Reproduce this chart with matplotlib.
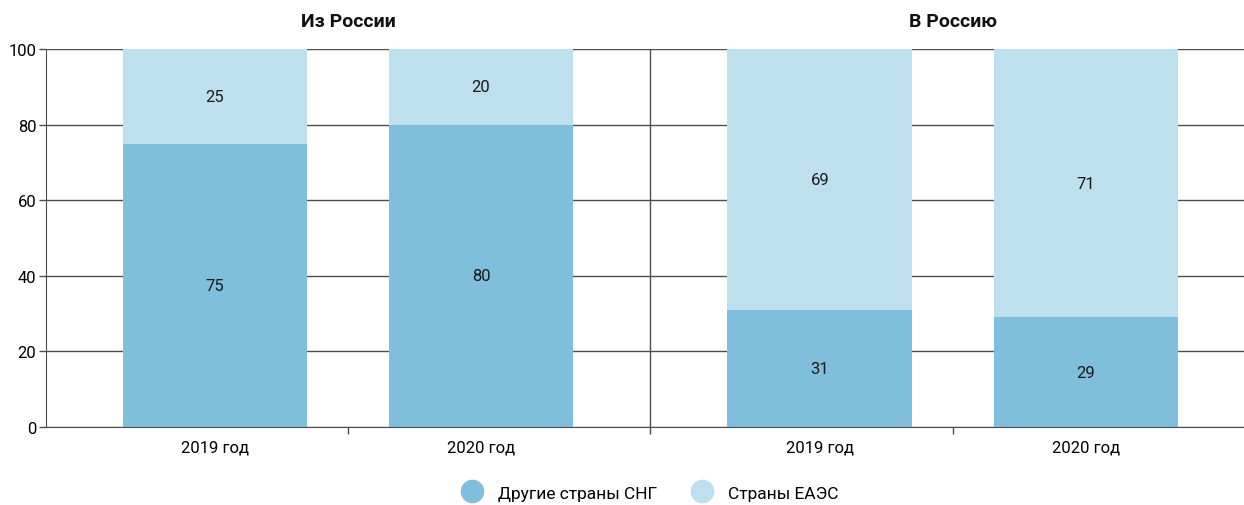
import matplotlib.pyplot as plt
from matplotlib.lines import Line2D

plt.rcParams['font.family'] = ['Roboto', 'DejaVu Sans']

# data
groups = ["Из России", "В Россию"]
years = ["2019 год", "2020 год", "2019 год", "2020 год"]
other_cis = [75, 80, 31, 29]     # Другие страны СНГ
eaeu = [25, 20, 69, 71]          # Страны ЕАЭС
series_names = ["Другие страны СНГ", "Страны ЕАЭС"]

c_dark = "#80bfdc"
c_light = "#bedfee"
grid_c = "#4d4d4d"

x = [0, 1, 2.274, 3.274]
sep = (x[1] + x[2]) / 2

fig = plt.figure(figsize=(12.44, 5.06), dpi=100)
ax = fig.add_axes([0.037, 0.154, 0.963, 0.747])

ax.bar(x, other_cis, width=0.695, color=c_dark, zorder=2)
ax.bar(x, eaeu, width=0.695, bottom=other_cis, color=c_light, zorder=2)

for xi, a, b in zip(x, other_cis, eaeu):
    ax.text(xi, a / 2, str(a), ha='center', va='center', fontsize=12, color='#1a1a1a', zorder=3)
    ax.text(xi, a + b / 2, str(b), ha='center', va='center', fontsize=12, color='#1a1a1a', zorder=3)

ax.set_xlim(-0.635, 3.868)
ax.set_ylim(0, 100)
ax.set_yticks([0, 20, 40, 60, 80, 100])
ax.yaxis.grid(True, color=grid_c, linewidth=1, zorder=0)
ax.set_axisbelow(True)
ax.tick_params(axis='y', length=5, width=1, color=grid_c, labelsize=12, pad=2)

ax.set_xticks(x)
ax.set_xticklabels(years)
ax.tick_params(axis='x', which='major', length=0, labelsize=12, pad=9)
ax.set_xticks([0.5, sep, 2.774], minor=True)
ax.tick_params(axis='x', which='minor', length=5, width=1, color=grid_c)

ax.axvline(sep, color=grid_c, linewidth=1, zorder=1)

for s in ['top', 'right']:
    ax.spines[s].set_visible(False)
ax.spines['left'].set_color(grid_c)
ax.spines['bottom'].set_color(grid_c)

# group titles
for gx, name in zip([0.5, 2.774], groups):
    ax.text(gx, 105, name, ha='center', va='bottom', fontsize=14, fontweight='bold', color='#111111')

handles = [Line2D([], [], marker='o', linestyle='none', markersize=16, color=c) for c in (c_dark, c_light)]
fig.legend(handles, series_names, loc='lower center', bbox_to_anchor=(0.52, -0.022), ncol=2,
           frameon=False, fontsize=12.5, handletextpad=0.5, columnspacing=1.6)

fig.savefig("out.png", dpi=100)
